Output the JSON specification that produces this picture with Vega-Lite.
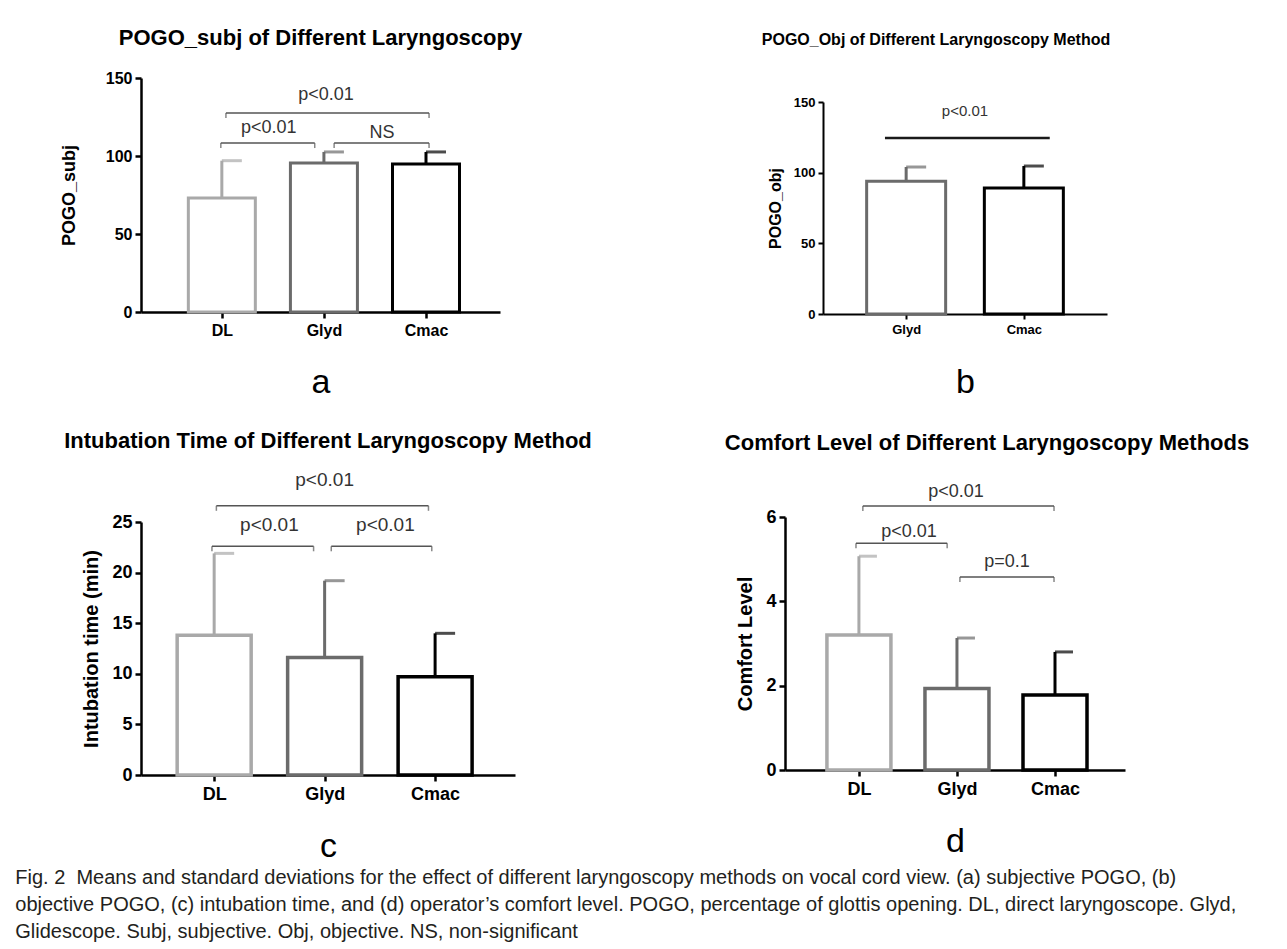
{
  "$schema": "https://vega.github.io/schema/vega-lite/v6.json",
  "background": "white",
  "padding": {"left": 15, "top": 27, "right": 5, "bottom": 5},
  "title": {
    "text": [
      "Fig. 2\u00a0\u00a0Means and standard deviations for the effect of different laryngoscopy methods on vocal cord view. (a) subjective POGO, (b)",
      "objective POGO, (c) intubation time, and (d) operator’s comfort level. POGO, percentage of glottis opening. DL, direct laryngoscope. Glyd,",
      "Glidescope. Subj, subjective. Obj, objective. NS, non-significant"
    ],
    "orient": "bottom",
    "anchor": "start",
    "frame": "bounds",
    "font": "Liberation Sans",
    "fontSize": 20,
    "fontWeight": "normal",
    "color": "#231f20",
    "lineHeight": 27,
    "offset": 5,
    "dx": -45
  },
  "datasets": {
    "a_bars": [
      {"method": "DL", "pos": 1, "mean": 73, "upper": 97},
      {"method": "Glyd", "pos": 2, "mean": 95.5, "upper": 102.6},
      {"method": "Cmac", "pos": 3, "mean": 94.9, "upper": 102.6}
    ],
    "a_brackets": [
      {"x1": 1.04, "x2": 3.03, "level": 127.6, "label": "p<0.01", "lx": 2.02, "ly": 135.9},
      {"x1": 0.99, "x2": 1.91, "level": 108.3, "label": "p<0.01", "lx": 1.46, "ly": 114.7},
      {"x1": 2.1, "x2": 3.03, "level": 108.3, "label": "NS", "lx": 2.57, "ly": 111.5}
    ],
    "b_bars": [
      {"method": "Glyd", "pos": 1, "mean": 94, "upper": 104},
      {"method": "Cmac", "pos": 2, "mean": 89.2, "upper": 104.7}
    ],
    "b_brackets": [
      {"x1": 0.82, "x2": 2.22, "level": 124.5, "label": "p<0.01", "lx": 1.5, "ly": 140}
    ],
    "c_bars": [
      {"method": "DL", "pos": 1, "mean": 13.8, "upper": 21.9},
      {"method": "Glyd", "pos": 2, "mean": 11.6, "upper": 19.2},
      {"method": "Cmac", "pos": 3, "mean": 9.7, "upper": 14.0}
    ],
    "c_brackets": [
      {"x1": 1.02, "x2": 2.94, "level": 26.6, "label": "p<0.01", "lx": 2.0, "ly": 28.6},
      {"x1": 0.98, "x2": 1.9, "level": 22.6, "label": "p<0.01", "lx": 1.5, "ly": 24.1},
      {"x1": 2.06, "x2": 2.97, "level": 22.6, "label": "p<0.01", "lx": 2.55, "ly": 24.1}
    ],
    "d_bars": [
      {"method": "DL", "pos": 1, "mean": 3.2, "upper": 5.07},
      {"method": "Glyd", "pos": 2, "mean": 1.93, "upper": 3.13},
      {"method": "Cmac", "pos": 3, "mean": 1.78, "upper": 2.8}
    ],
    "d_brackets": [
      {"x1": 1.04, "x2": 2.99, "level": 6.26, "label": "p<0.01", "lx": 1.99, "ly": 6.47},
      {"x1": 0.97, "x2": 1.9, "level": 5.38, "label": "p<0.01", "lx": 1.51, "ly": 5.53},
      {"x1": 2.03, "x2": 2.99, "level": 4.58, "label": "p=0.1", "lx": 2.51, "ly": 4.81}
    ]
  },
  "spacing": 30,
  "vconcat": [
    {
      "concat": [
        {
          "width": 359, "height": 234,
          "title": {"text": "POGO_subj of Different Laryngoscopy", "fontSize": 22, "offset": 20},
          "layer": [
            {
              "data": {"name": "a_bars"},
              "mark": {"type": "bar", "orient": "vertical", "fill": "white", "strokeWidth": 3, "width": 67},
              "encoding": {
                "x": {"field": "pos", "type": "quantitative", "title": "a", "scale": {"domain": [0.257, 3.676], "nice": false, "zero": false},
                  "axis": {"values": [1, 2, 3], "labelExpr": "['','DL','Glyd','Cmac'][datum.value]", "domainWidth": 2.5, "tickWidth": 2.5, "tickSize": 6, "labelFontSize": 16, "labelPadding": 4, "titleFontSize": 34, "titleFontWeight": "normal", "titlePadding": 27, "labelAngle": 0}},
                "y": {"field": "mean", "type": "quantitative", "title": "POGO_subj", "scale": {"domain": [0, 150], "nice": false},
                  "axis": {"values": [0, 50, 100, 150], "domainWidth": 2.5, "tickWidth": 2.5, "tickSize": 6, "labelFontSize": 16, "labelPadding": 3, "titleFontSize": 18, "titlePadding": 27}},
                "stroke": {"field": "method", "type": "nominal", "scale": {"domain": ["DL", "Glyd", "Cmac"], "range": ["#a9a9a9", "#6b6b6b", "#000000"]}, "legend": null}
              }
            },
            {
              "data": {"name": "a_bars"},
              "mark": {"type": "rule", "strokeWidth": 3},
              "encoding": {
                "x": {"field": "pos", "type": "quantitative", "title": "a", "scale": {"domain": [0.257, 3.676], "nice": false, "zero": false}},
                "y": {"field": "mean", "type": "quantitative", "title": "POGO_subj", "scale": {"domain": [0, 150], "nice": false}},
                "y2": {"field": "upper"},
                "stroke": {"field": "method", "type": "nominal", "scale": {"domain": ["DL", "Glyd", "Cmac"], "range": ["#a9a9a9", "#6b6b6b", "#000000"]}, "legend": null}
              }
            },
            {
              "data": {"name": "a_bars"},
              "mark": {"type": "tick", "orient": "horizontal", "size": 20, "thickness": 3, "xOffset": 10},
              "encoding": {
                "x": {"field": "pos", "type": "quantitative", "title": "a", "scale": {"domain": [0.257, 3.676], "nice": false, "zero": false}},
                "y": {"field": "upper", "type": "quantitative", "title": "POGO_subj", "scale": {"domain": [0, 150], "nice": false}},
                "color": {"field": "method", "type": "nominal", "scale": {"domain": ["DL", "Glyd", "Cmac"], "range": ["#a9a9a9", "#6b6b6b", "#000000"]}, "legend": null}
              }
            },
            {
              "data": {"name": "a_brackets"},
              "mark": {"type": "rule", "strokeWidth": 1.5, "color": "#555555"},
              "encoding": {
                "x": {"field": "x1", "type": "quantitative", "title": "a", "scale": {"domain": [0.257, 3.676], "nice": false, "zero": false}},
                "x2": {"field": "x2"},
                "y": {"field": "level", "type": "quantitative", "title": "POGO_subj", "scale": {"domain": [0, 150], "nice": false}}
              }
            },
            {
              "data": {"name": "a_brackets"},
              "mark": {"type": "tick", "orient": "vertical", "size": 5, "thickness": 1.5, "yOffset": 2.5, "color": "#555555"},
              "encoding": {
                "x": {"field": "x1", "type": "quantitative", "title": "a", "scale": {"domain": [0.257, 3.676], "nice": false, "zero": false}},
                "y": {"field": "level", "type": "quantitative", "title": "POGO_subj", "scale": {"domain": [0, 150], "nice": false}}
              }
            },
            {
              "data": {"name": "a_brackets"},
              "mark": {"type": "tick", "orient": "vertical", "size": 5, "thickness": 1.5, "yOffset": 2.5, "color": "#555555"},
              "encoding": {
                "x": {"field": "x2", "type": "quantitative", "title": "a", "scale": {"domain": [0.257, 3.676], "nice": false, "zero": false}},
                "y": {"field": "level", "type": "quantitative", "title": "POGO_subj", "scale": {"domain": [0, 150], "nice": false}}
              }
            },
            {
              "data": {"name": "a_brackets"},
              "mark": {"type": "text", "fontSize": 18, "color": "#333333", "baseline": "alphabetic", "font": "Liberation Sans"},
              "encoding": {
                "x": {"field": "lx", "type": "quantitative", "title": "a", "scale": {"domain": [0.257, 3.676], "nice": false, "zero": false}},
                "y": {"field": "ly", "type": "quantitative", "title": "POGO_subj", "scale": {"domain": [0, 150], "nice": false}},
                "text": {"field": "label"}
              }
            }
          ]
        },
        {
          "width": 284, "height": 236,
          "title": {"text": "POGO_Obj of Different Laryngoscopy Method", "fontSize": 16, "offset": 30, "dx": -29},
          "layer": [
            {
              "data": {"name": "b_bars"},
              "mark": {"type": "bar", "orient": "vertical", "fill": "white", "strokeWidth": 3, "width": 79},
              "encoding": {
                "x": {"field": "pos", "type": "quantitative", "title": "b", "scale": {"domain": [0.336, 2.664], "nice": false, "zero": false},
                  "axis": {"values": [1, 2], "labelExpr": "['','Glyd','Cmac'][datum.value]", "domainWidth": 2, "tickWidth": 2, "tickSize": 5, "labelFontSize": 13, "labelPadding": 4, "titleFontSize": 34, "titleFontWeight": "normal", "titlePadding": 29, "labelAngle": 0}},
                "y": {"field": "mean", "type": "quantitative", "title": "POGO_obj", "scale": {"domain": [0, 150], "nice": false, "range": [236, 24]},
                  "axis": {"values": [0, 50, 100, 150], "domainWidth": 2, "tickWidth": 2, "tickSize": 5, "labelFontSize": 13, "labelPadding": 3, "titleFontSize": 16, "titlePadding": 10}},
                "stroke": {"field": "method", "type": "nominal", "scale": {"domain": ["DL", "Glyd", "Cmac"], "range": ["#a9a9a9", "#6b6b6b", "#000000"]}, "legend": null}
              }
            },
            {
              "data": {"name": "b_bars"},
              "mark": {"type": "rule", "strokeWidth": 3},
              "encoding": {
                "x": {"field": "pos", "type": "quantitative", "title": "b", "scale": {"domain": [0.336, 2.664], "nice": false, "zero": false}},
                "y": {"field": "mean", "type": "quantitative", "title": "POGO_obj", "scale": {"domain": [0, 150], "nice": false, "range": [236, 24]}},
                "y2": {"field": "upper"},
                "stroke": {"field": "method", "type": "nominal", "scale": {"domain": ["DL", "Glyd", "Cmac"], "range": ["#a9a9a9", "#6b6b6b", "#000000"]}, "legend": null}
              }
            },
            {
              "data": {"name": "b_bars"},
              "mark": {"type": "tick", "orient": "horizontal", "size": 20, "thickness": 3, "xOffset": 10},
              "encoding": {
                "x": {"field": "pos", "type": "quantitative", "title": "b", "scale": {"domain": [0.336, 2.664], "nice": false, "zero": false}},
                "y": {"field": "upper", "type": "quantitative", "title": "POGO_obj", "scale": {"domain": [0, 150], "nice": false, "range": [236, 24]}},
                "color": {"field": "method", "type": "nominal", "scale": {"domain": ["DL", "Glyd", "Cmac"], "range": ["#a9a9a9", "#6b6b6b", "#000000"]}, "legend": null}
              }
            },
            {
              "data": {"name": "b_brackets"},
              "mark": {"type": "rule", "strokeWidth": 2.5, "color": "#1a1a1a"},
              "encoding": {
                "x": {"field": "x1", "type": "quantitative", "title": "b", "scale": {"domain": [0.336, 2.664], "nice": false, "zero": false}},
                "x2": {"field": "x2"},
                "y": {"field": "level", "type": "quantitative", "title": "POGO_obj", "scale": {"domain": [0, 150], "nice": false, "range": [236, 24]}}
              }
            },
            {
              "data": {"name": "b_brackets"},
              "mark": {"type": "text", "fontSize": 15, "color": "#333333", "baseline": "alphabetic", "font": "Liberation Sans"},
              "encoding": {
                "x": {"field": "lx", "type": "quantitative", "title": "b", "scale": {"domain": [0.336, 2.664], "nice": false, "zero": false}},
                "y": {"field": "ly", "type": "quantitative", "title": "POGO_obj", "scale": {"domain": [0, 150], "nice": false, "range": [236, 24]}},
                "text": {"field": "label"}
              }
            }
          ]
        }
      ],
      "columns": 2,
      "align": "none",
      "spacing": 238
    },
    {
      "concat": [
        {
          "width": 374, "height": 258,
          "title": {"text": "Intubation Time of Different Laryngoscopy Method", "fontSize": 22, "offset": 18},
          "layer": [
            {
              "data": {"name": "c_bars"},
              "mark": {"type": "bar", "orient": "vertical", "fill": "white", "strokeWidth": 3.5, "width": 74},
              "encoding": {
                "x": {"field": "pos", "type": "quantitative", "title": "c", "scale": {"domain": [0.383, 3.678], "nice": false, "zero": false},
                  "axis": {"values": [1, 2, 3], "labelExpr": "['','DL','Glyd','Cmac'][datum.value]", "domainWidth": 2.5, "tickWidth": 2.5, "tickSize": 6, "labelFontSize": 18, "labelPadding": 4, "titleFontSize": 34, "titleFontWeight": "normal", "titlePadding": 26, "labelAngle": 0}},
                "y": {"field": "mean", "type": "quantitative", "title": "Intubation time (min)", "scale": {"domain": [0, 25], "nice": false, "range": [258, 5]},
                  "axis": {"values": [0, 5, 10, 15, 20, 25], "domainWidth": 2.5, "tickWidth": 2.5, "tickSize": 6, "labelFontSize": 18, "labelPadding": 3, "titleFontSize": 20, "titlePadding": 10}},
                "stroke": {"field": "method", "type": "nominal", "scale": {"domain": ["DL", "Glyd", "Cmac"], "range": ["#a9a9a9", "#6b6b6b", "#000000"]}, "legend": null}
              }
            },
            {
              "data": {"name": "c_bars"},
              "mark": {"type": "rule", "strokeWidth": 3},
              "encoding": {
                "x": {"field": "pos", "type": "quantitative", "title": "c", "scale": {"domain": [0.383, 3.678], "nice": false, "zero": false}},
                "y": {"field": "mean", "type": "quantitative", "title": "Intubation time (min)", "scale": {"domain": [0, 25], "nice": false, "range": [258, 5]}},
                "y2": {"field": "upper"},
                "stroke": {"field": "method", "type": "nominal", "scale": {"domain": ["DL", "Glyd", "Cmac"], "range": ["#a9a9a9", "#6b6b6b", "#000000"]}, "legend": null}
              }
            },
            {
              "data": {"name": "c_bars"},
              "mark": {"type": "tick", "orient": "horizontal", "size": 20, "thickness": 3, "xOffset": 10},
              "encoding": {
                "x": {"field": "pos", "type": "quantitative", "title": "c", "scale": {"domain": [0.383, 3.678], "nice": false, "zero": false}},
                "y": {"field": "upper", "type": "quantitative", "title": "Intubation time (min)", "scale": {"domain": [0, 25], "nice": false, "range": [258, 5]}},
                "color": {"field": "method", "type": "nominal", "scale": {"domain": ["DL", "Glyd", "Cmac"], "range": ["#a9a9a9", "#6b6b6b", "#000000"]}, "legend": null}
              }
            },
            {
              "data": {"name": "c_brackets"},
              "mark": {"type": "rule", "strokeWidth": 1.5, "color": "#555555"},
              "encoding": {
                "x": {"field": "x1", "type": "quantitative", "title": "c", "scale": {"domain": [0.383, 3.678], "nice": false, "zero": false}},
                "x2": {"field": "x2"},
                "y": {"field": "level", "type": "quantitative", "title": "Intubation time (min)", "scale": {"domain": [0, 25], "nice": false, "range": [258, 5]}}
              }
            },
            {
              "data": {"name": "c_brackets"},
              "mark": {"type": "tick", "orient": "vertical", "size": 5, "thickness": 1.5, "yOffset": 2.5, "color": "#555555"},
              "encoding": {
                "x": {"field": "x1", "type": "quantitative", "title": "c", "scale": {"domain": [0.383, 3.678], "nice": false, "zero": false}},
                "y": {"field": "level", "type": "quantitative", "title": "Intubation time (min)", "scale": {"domain": [0, 25], "nice": false, "range": [258, 5]}}
              }
            },
            {
              "data": {"name": "c_brackets"},
              "mark": {"type": "tick", "orient": "vertical", "size": 5, "thickness": 1.5, "yOffset": 2.5, "color": "#555555"},
              "encoding": {
                "x": {"field": "x2", "type": "quantitative", "title": "c", "scale": {"domain": [0.383, 3.678], "nice": false, "zero": false}},
                "y": {"field": "level", "type": "quantitative", "title": "Intubation time (min)", "scale": {"domain": [0, 25], "nice": false, "range": [258, 5]}}
              }
            },
            {
              "data": {"name": "c_brackets"},
              "mark": {"type": "text", "fontSize": 19, "color": "#333333", "baseline": "alphabetic", "font": "Liberation Sans"},
              "encoding": {
                "x": {"field": "lx", "type": "quantitative", "title": "c", "scale": {"domain": [0.383, 3.678], "nice": false, "zero": false}},
                "y": {"field": "ly", "type": "quantitative", "title": "Intubation time (min)", "scale": {"domain": [0, 25], "nice": false, "range": [258, 5]}},
                "text": {"field": "label"}
              }
            }
          ]
        },
        {
          "width": 340, "height": 253,
          "title": {"text": "Comfort Level of Different Laryngoscopy Methods", "fontSize": 22, "offset": 28, "dx": 32},
          "layer": [
            {
              "data": {"name": "d_bars"},
              "mark": {"type": "bar", "orient": "vertical", "fill": "white", "strokeWidth": 3.5, "width": 64},
              "encoding": {
                "x": {"field": "pos", "type": "quantitative", "title": "d", "scale": {"domain": [0.297, 3.663], "nice": false, "zero": false},
                  "axis": {"values": [1, 2, 3], "labelExpr": "['','DL','Glyd','Cmac'][datum.value]", "domainWidth": 2.5, "tickWidth": 2.5, "tickSize": 6, "labelFontSize": 18, "labelPadding": 4, "titleFontSize": 34, "titleFontWeight": "normal", "titlePadding": 26, "labelAngle": 0}},
                "y": {"field": "mean", "type": "quantitative", "title": "Comfort Level", "scale": {"domain": [0, 6], "nice": false},
                  "axis": {"values": [0, 2, 4, 6], "domainWidth": 2.5, "tickWidth": 2.5, "tickSize": 6, "labelFontSize": 18, "labelPadding": 3, "titleFontSize": 20, "titlePadding": 10}},
                "stroke": {"field": "method", "type": "nominal", "scale": {"domain": ["DL", "Glyd", "Cmac"], "range": ["#a9a9a9", "#6b6b6b", "#000000"]}, "legend": null}
              }
            },
            {
              "data": {"name": "d_bars"},
              "mark": {"type": "rule", "strokeWidth": 3},
              "encoding": {
                "x": {"field": "pos", "type": "quantitative", "title": "d", "scale": {"domain": [0.297, 3.663], "nice": false, "zero": false}},
                "y": {"field": "mean", "type": "quantitative", "title": "Comfort Level", "scale": {"domain": [0, 6], "nice": false}},
                "y2": {"field": "upper"},
                "stroke": {"field": "method", "type": "nominal", "scale": {"domain": ["DL", "Glyd", "Cmac"], "range": ["#a9a9a9", "#6b6b6b", "#000000"]}, "legend": null}
              }
            },
            {
              "data": {"name": "d_bars"},
              "mark": {"type": "tick", "orient": "horizontal", "size": 18, "thickness": 3, "xOffset": 9},
              "encoding": {
                "x": {"field": "pos", "type": "quantitative", "title": "d", "scale": {"domain": [0.297, 3.663], "nice": false, "zero": false}},
                "y": {"field": "upper", "type": "quantitative", "title": "Comfort Level", "scale": {"domain": [0, 6], "nice": false}},
                "color": {"field": "method", "type": "nominal", "scale": {"domain": ["DL", "Glyd", "Cmac"], "range": ["#a9a9a9", "#6b6b6b", "#000000"]}, "legend": null}
              }
            },
            {
              "data": {"name": "d_brackets"},
              "mark": {"type": "rule", "strokeWidth": 1.5, "color": "#555555"},
              "encoding": {
                "x": {"field": "x1", "type": "quantitative", "title": "d", "scale": {"domain": [0.297, 3.663], "nice": false, "zero": false}},
                "x2": {"field": "x2"},
                "y": {"field": "level", "type": "quantitative", "title": "Comfort Level", "scale": {"domain": [0, 6], "nice": false}}
              }
            },
            {
              "data": {"name": "d_brackets"},
              "mark": {"type": "tick", "orient": "vertical", "size": 5, "thickness": 1.5, "yOffset": 2.5, "color": "#555555"},
              "encoding": {
                "x": {"field": "x1", "type": "quantitative", "title": "d", "scale": {"domain": [0.297, 3.663], "nice": false, "zero": false}},
                "y": {"field": "level", "type": "quantitative", "title": "Comfort Level", "scale": {"domain": [0, 6], "nice": false}}
              }
            },
            {
              "data": {"name": "d_brackets"},
              "mark": {"type": "tick", "orient": "vertical", "size": 5, "thickness": 1.5, "yOffset": 2.5, "color": "#555555"},
              "encoding": {
                "x": {"field": "x2", "type": "quantitative", "title": "d", "scale": {"domain": [0.297, 3.663], "nice": false, "zero": false}},
                "y": {"field": "level", "type": "quantitative", "title": "Comfort Level", "scale": {"domain": [0, 6], "nice": false}}
              }
            },
            {
              "data": {"name": "d_brackets"},
              "mark": {"type": "text", "fontSize": 18, "color": "#333333", "baseline": "alphabetic", "font": "Liberation Sans"},
              "encoding": {
                "x": {"field": "lx", "type": "quantitative", "title": "d", "scale": {"domain": [0.297, 3.663], "nice": false, "zero": false}},
                "y": {"field": "ly", "type": "quantitative", "title": "Comfort Level", "scale": {"domain": [0, 6], "nice": false}},
                "text": {"field": "label"}
              }
            }
          ]
        }
      ],
      "columns": 2,
      "align": "none",
      "spacing": 132
    }
  ],
  "config": {
    "font": "Liberation Sans",
    "view": {"stroke": null},
    "axis": {
      "grid": false,
      "domainColor": "#000000",
      "tickColor": "#000000",
      "labelColor": "#000000",
      "titleColor": "#000000",
      "labelFont": "Liberation Sans",
      "titleFont": "Liberation Sans",
      "labelFontWeight": "bold",
      "titleFontWeight": "bold"
    },
    "title": {"font": "Liberation Sans", "fontWeight": "bold", "color": "#000000", "anchor": "middle", "frame": "group"}
  }
}
